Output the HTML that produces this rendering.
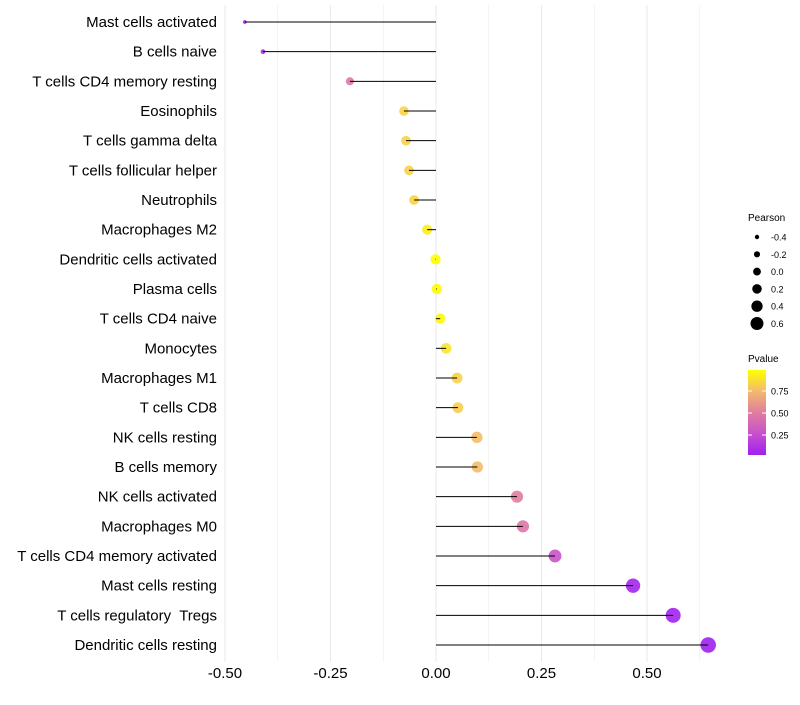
<!DOCTYPE html>
<html><head><meta charset="utf-8"><style>
body{margin:0;background:#fff;font-family:"Liberation Sans",sans-serif}
text{white-space:pre}
</style></head><body>
<svg id="chart" width="800" height="700" xmlns="http://www.w3.org/2000/svg">
<defs><linearGradient id="pg" x1="0" y1="1" x2="0" y2="0">
<stop offset="0" stop-color="#A020F0"/><stop offset="0.25" stop-color="#C850CD"/><stop offset="0.5" stop-color="#E17DA0"/><stop offset="0.75" stop-color="#F3B96E"/><stop offset="1" stop-color="#FFFF00"/></linearGradient></defs>
<g id="grid"></g><g id="marks"></g><g id="labels"></g><g id="legend"></g>
</svg>
<script>
const categories=["Mast cells activated","B cells naive","T cells CD4 memory resting","Eosinophils","T cells gamma delta","T cells follicular helper","Neutrophils","Macrophages M2","Dendritic cells activated","Plasma cells","T cells CD4 naive","Monocytes","Macrophages M1","T cells CD8","NK cells resting","B cells memory","NK cells activated","Macrophages M0","T cells CD4 memory activated","Mast cells resting","T cells regulatory  Tregs","Dendritic cells resting"];
const pearson=[-0.453,-0.41,-0.204,-0.076,-0.071,-0.064,-0.052,-0.021,-0.001,0.002,0.01,0.024,0.05,0.052,0.097,0.098,0.192,0.206,0.282,0.467,0.562,0.645];
const pvalues=[0.03,0.08,0.48,0.84,0.83,0.83,0.84,0.93,0.99,0.98,0.96,0.9,0.83,0.82,0.76,0.76,0.5,0.47,0.28,0.05,0.04,0.02];
const xTicks=[-0.5,-0.25,0,0.25,0.5];
const xTickLabels=["-0.50","-0.25","0.00","0.25","0.50"];
const sizeLegend=[-0.4,-0.2,0,0.2,0.4,0.6];
const sizeLegendLabels=["-0.4","-0.2","0.0","0.2","0.4","0.6"];
const pLegend=[0.25,0.5,0.75];
const pLegendLabels=["0.25","0.50","0.75"];
const NS="http://www.w3.org/2000/svg";
const x=v=>436+v*422;
const y=i=>22+i*(623/21);
const rr=v=>Math.sqrt(3.5+52*Math.max(0,v+0.45));
const rl=v=>2.2+(v+0.4)*4.3;
const pmin=0.023,pmax=0.989;
const stops=[[160,32,240],[200,80,205],[225,125,160],[243,185,110],[255,255,0]];
function col(p){let t=Math.max(0,Math.min(1,(p-pmin)/(pmax-pmin)))*4;let i=Math.min(3,Math.floor(t)),f=t-i;const a=stops[i],b=stops[i+1];return `rgb(${a.map((c,k)=>Math.round(c+(b[k]-c)*f)).join(',')})`;}
function mk(tag,attrs,parent){const e=document.createElementNS(NS,tag);for(const k in attrs)e.setAttribute(k,attrs[k]);parent.appendChild(e);return e;}
const grid=document.getElementById('grid'),marks=document.getElementById('marks'),labels=document.getElementById('labels'),leg=document.getElementById('legend');
for(let v=-0.5;v<=0.65;v+=0.125){const g=mk('line',{x1:x(v),x2:x(v),y1:5,y2:662,stroke:'#ebebeb','stroke-width':Math.abs(v*4-Math.round(v*4))<1e-6?1.1:0.6},grid);
}
xTicks.forEach((v,i)=>{const t=mk('text',{x:x(v),y:678,'text-anchor':'middle','font-size':15,fill:'#000'},labels);t.textContent=xTickLabels[i];
});
categories.forEach((c,i)=>{
const t=mk('text',{x:217,y:y(i)+5,'text-anchor':'end','font-size':15,fill:'#000'},labels);t.textContent=c;

const d=mk('circle',{cx:x(pearson[i]),cy:y(i),r:rr(pearson[i]),fill:col(pvalues[i]),'fill-opacity':0.9},marks);

const l=mk('line',{x1:x(0),x2:x(pearson[i]),y1:y(i),y2:y(i),stroke:'#000','stroke-width':1},marks);

});
let t=mk('text',{x:748,y:221,'font-size':10,fill:'#000'},leg);t.textContent='Pearson';

sizeLegend.forEach((v,i)=>{const cy=237+i*17.3;const c=mk('circle',{cx:757,cy:cy,r:rl(v),fill:'#000'},leg);

const tt=mk('text',{x:771,y:cy+3.5,'font-size':9,fill:'#000'},leg);tt.textContent=sizeLegendLabels[i];
});
t=mk('text',{x:748,y:362,'font-size':10,fill:'#000'},leg);t.textContent='Pvalue';

const bar=mk('rect',{x:748,y:370,width:18,height:85,fill:'url(#pg)'},leg);

pLegend.forEach((p,i)=>{const cy=455-(p-pmin)/(pmax-pmin)*85;
const tk=mk('line',{x1:748,x2:752,y1:cy,y2:cy,stroke:'#fff'},leg);
const tk2=mk('line',{x1:762,x2:766,y1:cy,y2:cy,stroke:'#fff'},leg);
const tt=mk('text',{x:771,y:cy+3.5,'font-size':9,fill:'#000'},leg);tt.textContent=pLegendLabels[i];
});
</script>
</body></html>
